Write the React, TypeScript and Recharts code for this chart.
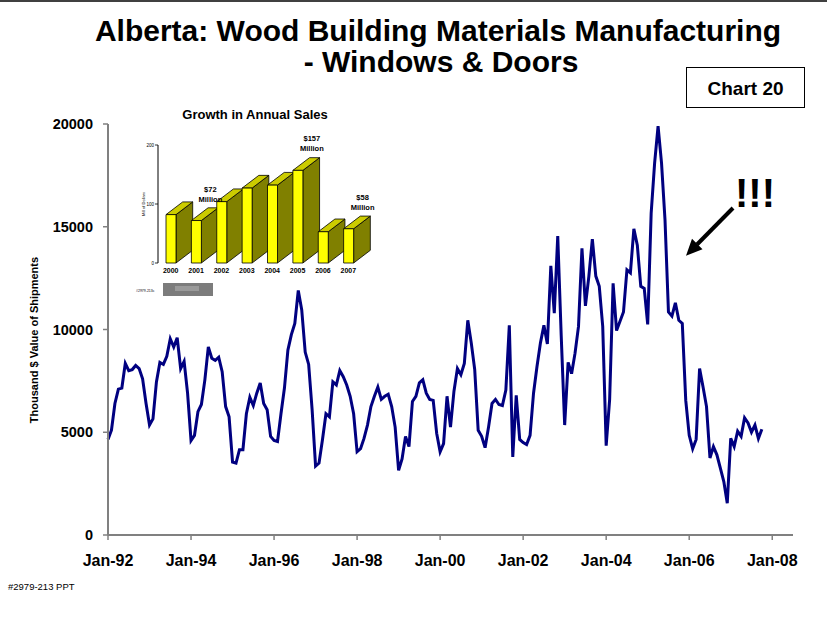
import { Bar, BarChart, LabelList, Line, LineChart, XAxis, YAxis } from "recharts"

const FONT = '"Liberation Sans", Arial, Helvetica, sans-serif'

// Monthly value of shipments (thousand $), Jan-92 .. Oct-07
const shipments = [
  4650, 5100, 6400, 7100, 7150, 8350, 8000, 8050, 8250, 8100, 7600, 6400, // 1992
  5350, 5650, 7450, 8400, 8300, 8700, 9550, 9150, 9600, 8100, 8450, 6900, // 1993
  4600, 4850, 6000, 6350, 7550, 9150, 8600, 8500, 8650, 7950, 6250, 5750, // 1994
  3550, 3500, 4150, 4150, 5900, 6700, 6300, 6900, 7400, 6400, 6100, 4800, // 1995
  4600, 4550, 5900, 7150, 9000, 9750, 10300, 11900, 10950, 8900, 8300, 6100, // 1996
  3350, 3500, 4650, 5900, 5750, 7450, 7300, 8000, 7700, 7300, 6750, 5900, // 1997
  4050, 4200, 4700, 5350, 6250, 6750, 7200, 6600, 6750, 6850, 6250, 5250, // 1998
  3150, 3700, 4800, 4300, 6500, 6750, 7400, 7550, 6900, 6600, 6550, 4950, // 1999
  4050, 4450, 6750, 5250, 7000, 8100, 7800, 8350, 10450, 9350, 8050, 5100, // 2000
  4800, 4250, 5250, 6400, 6600, 6350, 6300, 7050, 10200, 3800, 6800, 4650, // 2001
  4500, 4400, 4850, 6900, 8200, 9350, 10200, 9300, 13100, 10800, 14550, 9700, // 2002
  5350, 8400, 7850, 8850, 10150, 13950, 11150, 12600, 14400, 12600, 12100, 10150, // 2003
  4350, 6600, 12250, 9950, 10400, 10850, 12900, 12750, 14900, 14100, 12100, 12000, // 2004
  10250, 15650, 18100, 19900, 18100, 15350, 10850, 10650, 11300, 10450, 10300, 6550, // 2005
  4850, 4200, 4650, 8100, 7200, 6250, 3750, 4300, 3900, 3250, 2600, 1550, // 2006
  4700, 4300, 5050, 4800, 5700, 5450, 5000, 5350, 4700, 5150, // 2007
]

const tickMonths = [0, 24, 48, 72, 96, 120, 144, 168, 192]
const tickLabels = ["Jan-92", "Jan-94", "Jan-96", "Jan-98", "Jan-00", "Jan-02", "Jan-04", "Jan-06", "Jan-08"]
const valueTicks = [0, 5000, 10000, 15000, 20000]

// inset: annual sales, $ millions
const salesYears = ["2000", "2001", "2002", "2003", "2004", "2005", "2006", "2007"]
const salesMillions = [82, 72, 104, 127, 132, 157, 53, 58]
const salesNotes = ["", "$72", "", "", "", "$157", "", "$58"]
const salesTicks = [0, 100, 200]

const lineData = shipments.map((value, month) => ({ month, value }))
const salesData = salesYears.map((year, i) => ({ year, sales: salesMillions[i], note: salesNotes[i] }))

// 3D-looking column like the old Excel inset
function Bar3D(props: any) {
  const { x, y, width, height } = props
  if (height == null || height <= 0) return null
  const dx = 16.7
  const dy = 12.7
  const top = `${x},${y} ${x + dx},${y - dy} ${x + width + dx},${y - dy} ${x + width},${y}`
  const side = `${x + width},${y} ${x + width + dx},${y - dy} ${x + width + dx},${y + height - dy} ${x + width},${y + height}`
  return (
    <g stroke="#000" strokeWidth={0.8} strokeLinejoin="round">
      <polygon points={side} fill="#808000" />
      <polygon points={top} fill="#cccc00" />
      <rect x={x} y={y} width={width} height={height} fill="#ffff00" />
    </g>
  )
}

function SalesNote(props: any) {
  const { x, y, width, value } = props
  if (!value) return null
  const cx = x + width / 2 + 14
  return (
    <g fontSize={7.5} fontWeight="bold" textAnchor="middle" fill="#000" fontFamily={FONT}>
      <text x={cx} y={y - 29}>{value}</text>
      <text x={cx} y={y - 19}>Million</text>
    </g>
  )
}

export default function App() {
  return (
    <div style={{ position: "absolute", left: 0, top: 0, width: 827, height: 620, background: "#fff", fontFamily: FONT }}>
      <div style={{ position: "absolute", left: 0, top: 0 }}>
        <LineChart width={827} height={620} data={lineData} margin={{ top: 124, right: 34, bottom: 55, left: 48 }}>
          <XAxis
            dataKey="month"
            type="number"
            domain={[0, 198]}
            ticks={tickMonths}
            interval={0}
            tickFormatter={(m: number) => tickLabels[tickMonths.indexOf(m)]}
            height={30}
            axisLine={{ stroke: "#808080", strokeWidth: 2 }}
            tickLine={{ stroke: "#808080", strokeWidth: 1.5 }}
            tickSize={5}
            tickMargin={15}
            tick={{ fill: "#000", fontSize: 16, fontWeight: "bold", fontFamily: FONT }}
          />
          <YAxis
            domain={[0, 20000]}
            ticks={valueTicks}
            interval={0}
            width={60}
            axisLine={{ stroke: "#808080", strokeWidth: 2 }}
            tickLine={{ stroke: "#808080", strokeWidth: 1.5 }}
            tickSize={5}
            tickMargin={10}
            tick={{ fill: "#000", fontSize: 14.5, fontWeight: "bold", fontFamily: FONT }}
          />
          <Line
            type="linear"
            dataKey="value"
            stroke="#000080"
            strokeWidth={3}
            dot={false}
            isAnimationActive={false}
          />
        </LineChart>
      </div>

      {/* inset: Growth in Annual Sales */}
      <div style={{ position: "absolute", left: 130, top: 100 }}>
        <BarChart width={260} height={200} data={salesData} margin={{ top: 45, right: 29, bottom: 22, left: 18 }}>
          <XAxis
            dataKey="year"
            axisLine={false}
            tickLine={false}
            tickSize={0}
            tickMargin={5}
            interval={0}
            height={15}
            tick={{ fill: "#000", fontSize: 7, fontWeight: "bold", fontFamily: FONT }}
          />
          <YAxis
            domain={[0, 200]}
            ticks={salesTicks}
            interval={0}
            width={10}
            axisLine={{ stroke: "#000", strokeWidth: 1 }}
            tickLine={{ stroke: "#000", strokeWidth: 0.8 }}
            tickSize={3}
            tickMargin={1}
            tick={{ fill: "#000", fontSize: 4.5, fontFamily: FONT }}
          />
          <Bar dataKey="sales" barSize={10} shape={Bar3D} isAnimationActive={false}>
            <LabelList dataKey="note" content={SalesNote} />
          </Bar>
        </BarChart>
      </div>

      <svg
        width={827}
        height={620}
        style={{ position: "absolute", left: 0, top: 0, pointerEvents: "none" }}
        fontFamily={FONT}
      >
        <line x1={0} y1={1} x2={827} y2={1} stroke="#404040" strokeWidth={2} />
        <text x={438} y={41} fontSize={30} fontWeight="bold" textAnchor="middle">
          Alberta: Wood Building Materials Manufacturing
        </text>
        <text x={441} y={72} fontSize={30} fontWeight="bold" textAnchor="middle">
          - Windows &amp; Doors
        </text>
        <rect x={686.5} y={67.5} width={118} height={40} fill="#fff" stroke="#000" strokeWidth={1} />
        <text x={745.5} y={95} fontSize={19} fontWeight="bold" textAnchor="middle">
          Chart 20
        </text>
        <text
          x={34}
          y={340}
          fontSize={11}
          fontWeight="bold"
          textAnchor="middle"
          dominantBaseline="central"
          transform="rotate(-90 34 340)"
        >
          Thousand $ Value of Shipments
        </text>

        {/* annotation */}
        <text x={755} y={207} fontSize={40} fontWeight="bold" textAnchor="middle">
          !!!
        </text>
        <line x1={733} y1={208} x2={697} y2={244.5} stroke="#000" strokeWidth={4} />
        <polygon points="686,255.7 702.5,249.3 692,238.8" fill="#000" />

        {/* inset title and bits */}
        <text x={255} y={119} fontSize={13} fontWeight="bold" textAnchor="middle">
          Growth in Annual Sales
        </text>
        <text
          x={143}
          y={204}
          fontSize={4}
          textAnchor="middle"
          dominantBaseline="central"
          transform="rotate(-90 143 204)"
        >
          Mill of Dollars
        </text>
        <text x={136} y={292} fontSize={3.5}>#2979-213c</text>
        <rect x={163} y={283} width={50} height={13} fill="#7c7c7c" />
        <rect x={175} y={286} width={24} height={5} fill="#9a9a9a" />

        <text x={8} y={590} fontSize={9.5}>#2979-213 PPT</text>
      </svg>
    </div>
  )
}
